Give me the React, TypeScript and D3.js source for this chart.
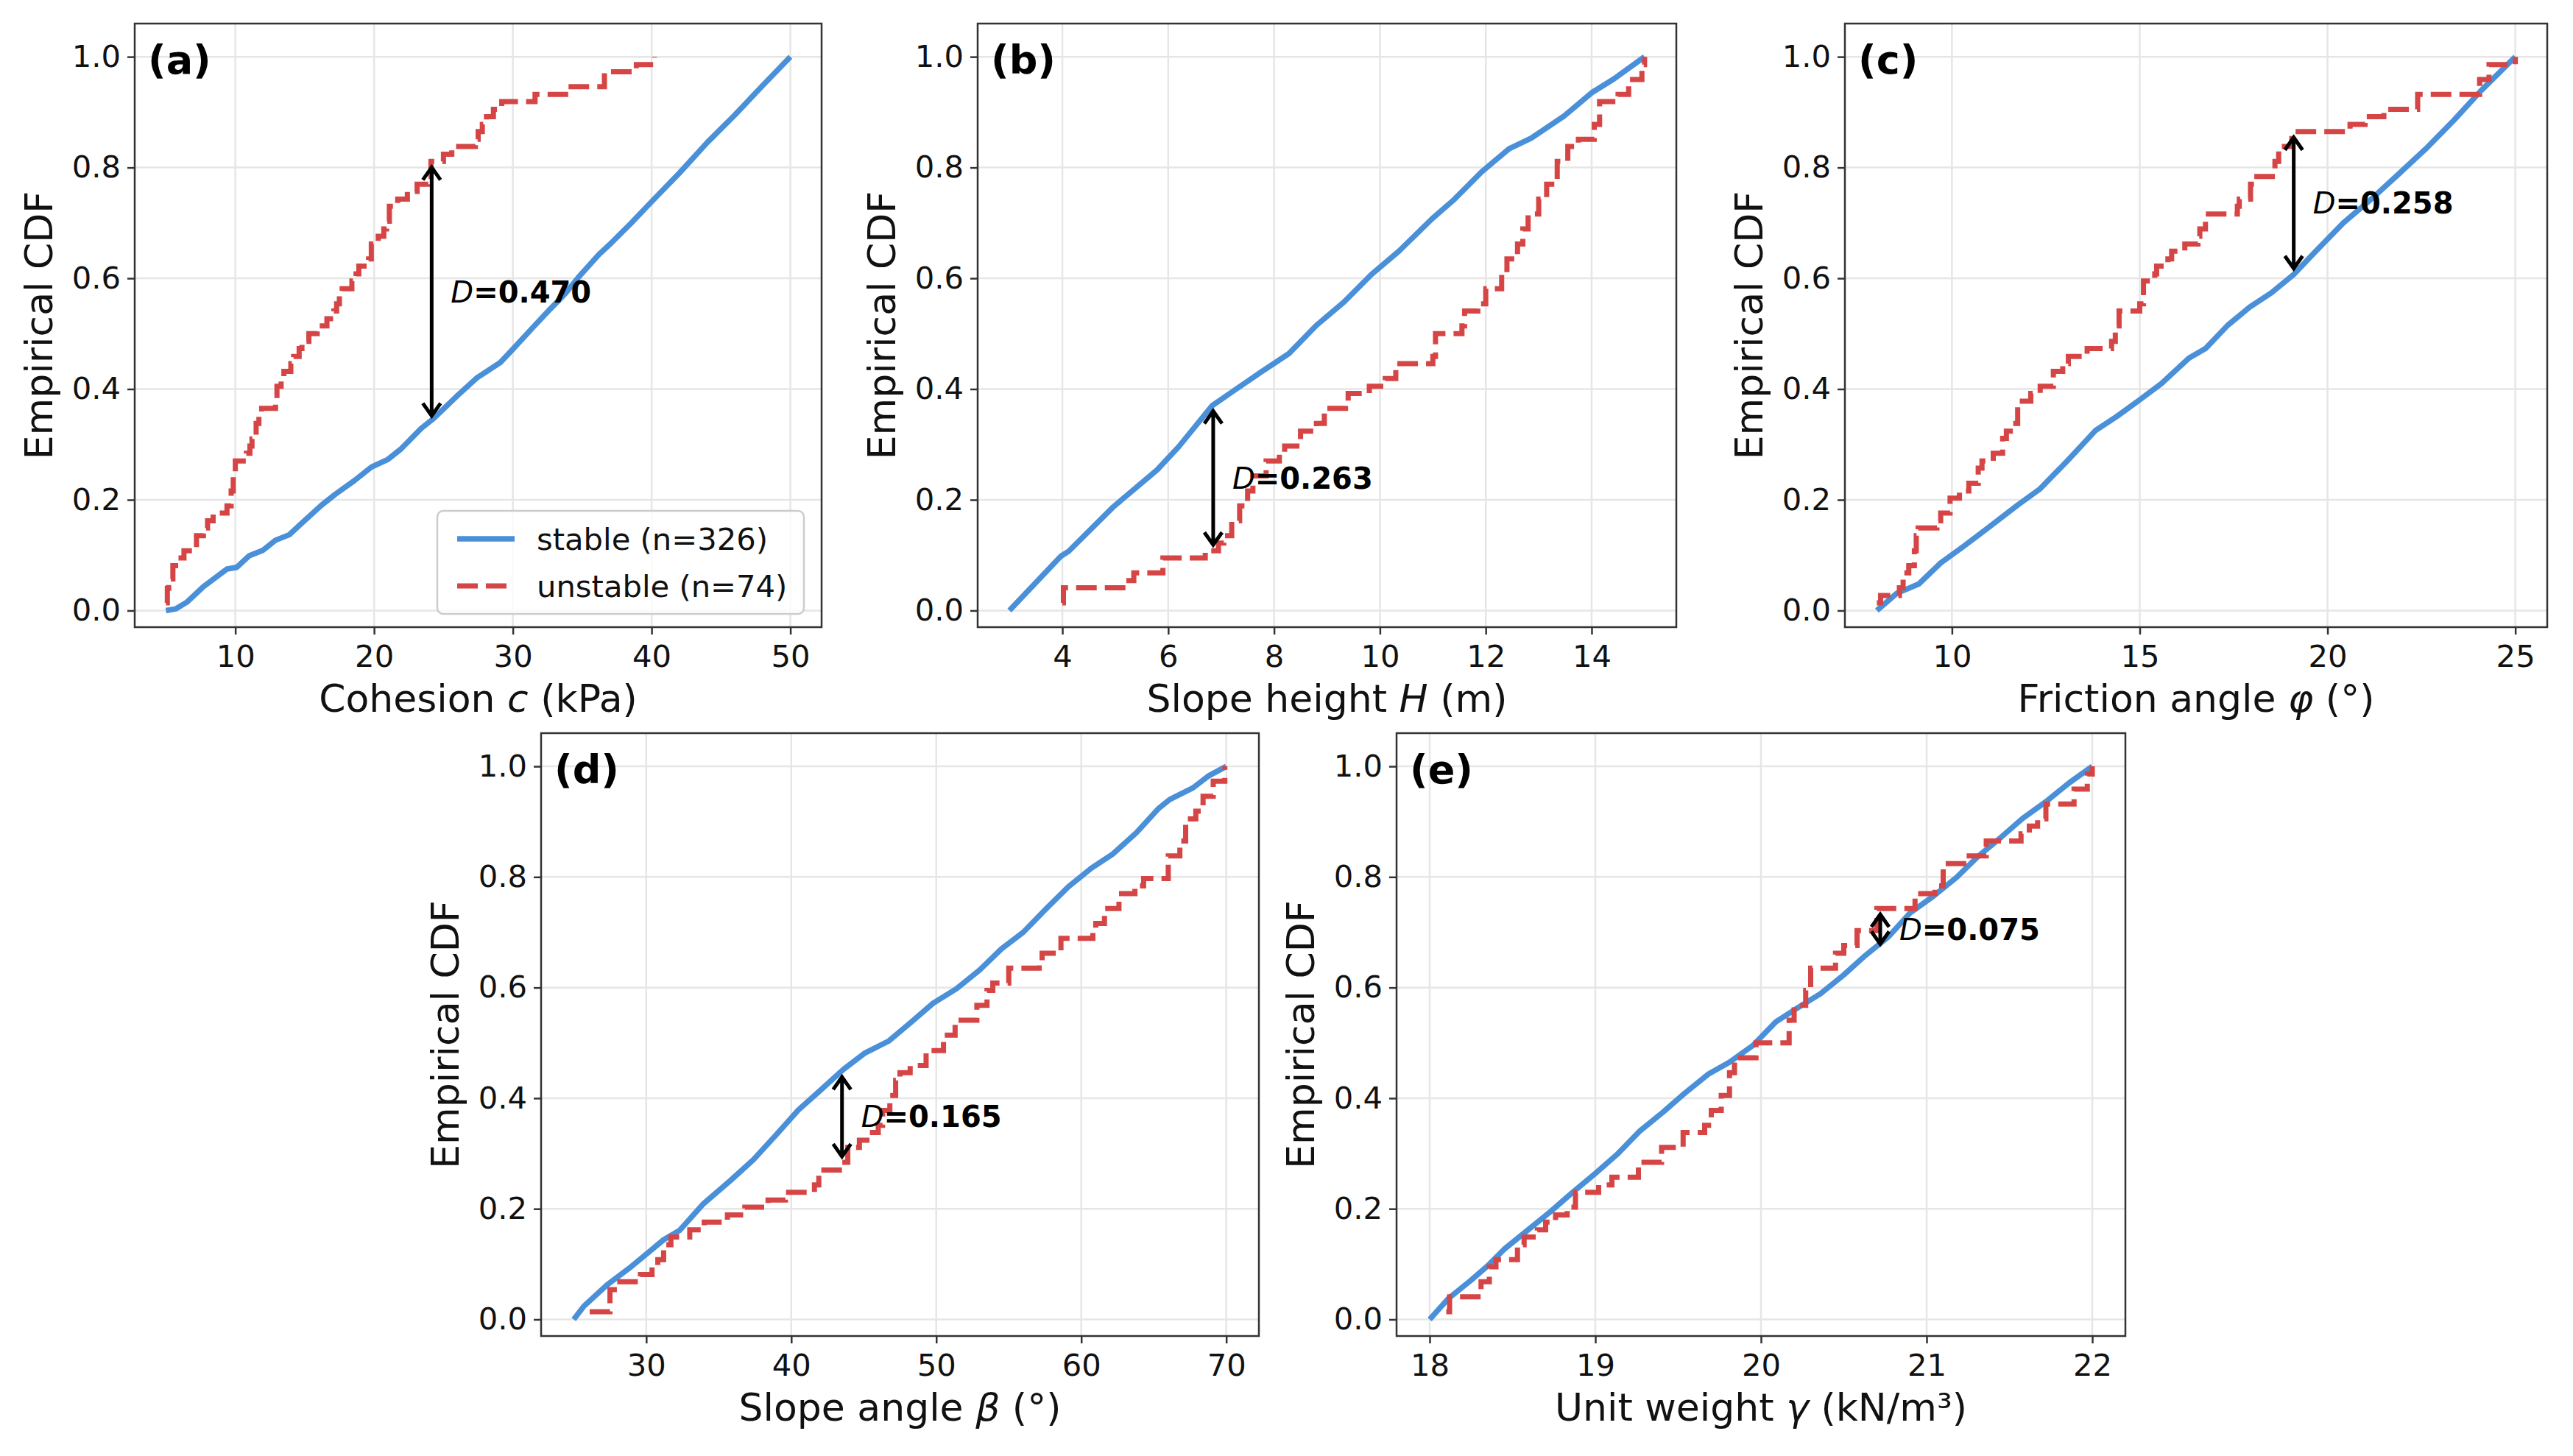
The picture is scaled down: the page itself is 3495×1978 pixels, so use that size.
import * as d3 from "d3";
import React, { useEffect, useRef } from "react";

const W = 3495;
const H = 1978;

// (a) cohesion c (kPa)
const aStableX = [5, 5.7, 6.5, 7.7, 9.4, 10.1, 11, 12, 12.9, 13.9, 14.8, 16.2, 17.2, 18.6, 19.8, 21, 21.9, 23.4, 24.3, 26, 27.4, 29.1, 30, 31.4, 32.6, 33.8, 34.7, 36.2, 37.1, 38.5, 40.1, 42, 44, 46, 48, 50];
const aStableY = [0, 0.003, 0.015, 0.043, 0.075, 0.078, 0.099, 0.109, 0.127, 0.137, 0.158, 0.19, 0.21, 0.235, 0.259, 0.273, 0.291, 0.329, 0.347, 0.388, 0.42, 0.448, 0.472, 0.51, 0.542, 0.573, 0.601, 0.643, 0.664, 0.699, 0.741, 0.79, 0.845, 0.895, 0.948, 1];
const aUnstableX = [5, 5.1, 5.2, 5.5, 5.9, 6.3, 7.2, 7.7, 8, 8.4, 9.4, 9.7, 9.85, 10, 10.8, 11.05, 11.2, 11.5, 11.7, 11.9, 12.9, 13, 13.3, 13.5, 14, 14.2, 14.6, 14.8, 15.3, 15.9, 16.6, 17.1, 17.3, 17.5, 17.7, 18.4, 18.7, 18.9, 19.6, 19.8, 20.3, 20.7, 20.9, 21.1, 21.7, 22.4, 23.1, 23.9, 24.1, 25, 25.6, 27.3, 27.5, 27.8, 28.1, 28.6, 29.2, 31.6, 33.8, 36.6, 38.9, 40.2];
const aUnstableY = [0.014, 0.04, 0.057, 0.081, 0.095, 0.108, 0.135, 0.149, 0.162, 0.176, 0.189, 0.216, 0.243, 0.27, 0.284, 0.297, 0.31, 0.338, 0.351, 0.365, 0.378, 0.405, 0.419, 0.432, 0.446, 0.459, 0.473, 0.486, 0.5, 0.514, 0.527, 0.541, 0.554, 0.568, 0.581, 0.595, 0.608, 0.622, 0.635, 0.662, 0.676, 0.689, 0.703, 0.73, 0.743, 0.757, 0.77, 0.784, 0.811, 0.824, 0.838, 0.851, 0.865, 0.878, 0.892, 0.905, 0.919, 0.932, 0.946, 0.973, 0.986, 1];

// (b) slope height H (m)
const bStableX = [3, 3.97, 4.12, 4.96, 5.79, 6.2, 6.83, 7.24, 7.76, 8.28, 8.8, 9.32, 9.84, 10.36, 10.99, 11.4, 11.92, 12.44, 12.86, 13.48, 14, 14.42, 15];
const bStableY = [0, 0.098, 0.107, 0.187, 0.254, 0.296, 0.37, 0.397, 0.431, 0.464, 0.515, 0.557, 0.607, 0.649, 0.708, 0.742, 0.792, 0.834, 0.853, 0.893, 0.935, 0.96, 1];
const bUnstableX = [4, 4.02, 5.2, 5.35, 5.9, 6.7, 6.95, 7.05, 7.2, 7.35, 7.5, 7.6, 7.85, 8.1, 8.2, 8.5, 8.8, 8.95, 9.35, 9.4, 9.8, 10.1, 10.3, 11, 11.05, 11.55, 11.6, 11.85, 12, 12.3, 12.4, 12.6, 12.7, 12.8, 13, 13.15, 13.35, 13.55, 13.75, 14.05, 14.15, 14.5, 14.7, 14.95, 15];
const bUnstableY = [0.014, 0.041, 0.054, 0.068, 0.095, 0.108, 0.122, 0.135, 0.162, 0.189, 0.216, 0.243, 0.27, 0.284, 0.297, 0.324, 0.338, 0.365, 0.378, 0.392, 0.405, 0.419, 0.446, 0.459, 0.5, 0.514, 0.541, 0.554, 0.581, 0.608, 0.635, 0.662, 0.689, 0.716, 0.743, 0.77, 0.811, 0.838, 0.851, 0.878, 0.919, 0.932, 0.959, 0.986, 1];

// (c) friction angle φ (°)
const cStableX = [8, 8.53, 9.12, 9.7, 10.29, 10.88, 11.76, 12.35, 13.08, 13.82, 14.4, 14.99, 15.58, 16.31, 16.75, 17.34, 17.93, 18.51, 19.1, 19.69, 20.42, 21.15, 21.89, 22.62, 23.36, 24.09, 25];
const cStableY = [0, 0.031, 0.048, 0.086, 0.115, 0.145, 0.191, 0.22, 0.271, 0.325, 0.351, 0.38, 0.41, 0.456, 0.473, 0.515, 0.548, 0.574, 0.607, 0.649, 0.7, 0.742, 0.788, 0.834, 0.885, 0.939, 1];
const cUnstableX = [8, 8.1, 8.6, 8.7, 8.85, 9, 9.05, 9.1, 9.6, 9.7, 9.95, 10.2, 10.45, 10.7, 10.8, 11.1, 11.35, 11.45, 11.7, 11.75, 12.1, 12.35, 12.7, 12.95, 13.1, 13.6, 14.25, 14.35, 14.45, 15, 15.1, 15.4, 15.45, 15.75, 15.85, 16.2, 16.55, 16.6, 16.75, 17.6, 17.65, 17.95, 18.05, 18.6, 18.7, 19.05, 20.6, 21, 21.5, 22.4, 24.05, 24.3, 25];
const cUnstableY = [0.014, 0.027, 0.041, 0.068, 0.081, 0.108, 0.135, 0.149, 0.162, 0.176, 0.203, 0.216, 0.23, 0.257, 0.27, 0.284, 0.311, 0.324, 0.338, 0.378, 0.392, 0.405, 0.432, 0.446, 0.459, 0.473, 0.486, 0.514, 0.541, 0.554, 0.595, 0.608, 0.622, 0.635, 0.649, 0.662, 0.676, 0.689, 0.716, 0.73, 0.743, 0.77, 0.784, 0.811, 0.838, 0.865, 0.878, 0.892, 0.905, 0.932, 0.959, 0.986, 1];

// (d) slope angle β (°)
const dStableX = [25, 25.7, 27.3, 28.8, 30, 31.2, 32.3, 33.9, 35.8, 37.4, 38.9, 40.5, 42, 43.6, 45.1, 46.7, 48.3, 49.8, 51.4, 53, 54.5, 56, 57.6, 59.1, 60.7, 62.2, 63.8, 65.3, 66.1, 67.7, 68.8, 70];
const dStableY = [0, 0.024, 0.0625, 0.092, 0.118, 0.144, 0.161, 0.208, 0.251, 0.289, 0.332, 0.379, 0.414, 0.452, 0.482, 0.503, 0.538, 0.572, 0.598, 0.632, 0.67, 0.7, 0.743, 0.782, 0.816, 0.842, 0.88, 0.923, 0.94, 0.961, 0.983, 1];
const dUnstableX = [26.1, 27.5, 28, 29.6, 30.4, 30.8, 31.2, 31.7, 33, 34, 35.6, 36.8, 38.4, 39.6, 41.6, 41.9, 43.5, 43.9, 44.7, 45.6, 46, 46.3, 46.8, 47.2, 47.5, 48.2, 49.3, 50.5, 51.3, 52.8, 53.5, 53.9, 55, 57.1, 57.3, 58.6, 60.8, 61, 61.6, 62.6, 63.7, 64.3, 66, 66.8, 67.2, 67.9, 68.4, 69.1, 69.9];
const dUnstableY = [0.014, 0.054, 0.068, 0.081, 0.095, 0.108, 0.135, 0.149, 0.162, 0.176, 0.189, 0.203, 0.216, 0.23, 0.243, 0.27, 0.284, 0.311, 0.324, 0.338, 0.351, 0.378, 0.405, 0.432, 0.446, 0.459, 0.486, 0.514, 0.541, 0.568, 0.595, 0.608, 0.635, 0.649, 0.662, 0.689, 0.703, 0.716, 0.743, 0.77, 0.784, 0.797, 0.838, 0.865, 0.905, 0.919, 0.946, 0.973, 1];

// (e) unit weight γ (kN/m³)
const eStableX = [18, 18.11, 18.25, 18.35, 18.45, 18.59, 18.73, 18.86, 19, 19.13, 19.27, 19.41, 19.54, 19.68, 19.81, 19.95, 20.09, 20.22, 20.36, 20.5, 20.63, 20.77, 20.9, 21.04, 21.18, 21.31, 21.45, 21.58, 21.72, 21.86, 22];
const eStableY = [0, 0.037, 0.071, 0.097, 0.127, 0.161, 0.195, 0.229, 0.264, 0.298, 0.341, 0.375, 0.409, 0.443, 0.465, 0.495, 0.538, 0.563, 0.589, 0.623, 0.658, 0.692, 0.735, 0.765, 0.799, 0.837, 0.872, 0.906, 0.936, 0.97, 1];
const eUnstableX = [18.1, 18.12, 18.31, 18.36, 18.4, 18.53, 18.57, 18.65, 18.7, 18.76, 18.83, 18.88, 19.02, 19.1, 19.26, 19.4, 19.53, 19.66, 19.7, 19.76, 19.81, 19.84, 19.97, 20.17, 20.2, 20.27, 20.3, 20.45, 20.5, 20.58, 20.7, 20.93, 21.05, 21.1, 21.24, 21.36, 21.57, 21.62, 21.67, 21.72, 21.89, 21.97, 22];
const eUnstableY = [0.014, 0.041, 0.068, 0.095, 0.108, 0.135, 0.149, 0.162, 0.176, 0.189, 0.203, 0.23, 0.243, 0.257, 0.284, 0.311, 0.338, 0.351, 0.378, 0.405, 0.446, 0.473, 0.5, 0.541, 0.568, 0.595, 0.635, 0.662, 0.676, 0.703, 0.743, 0.77, 0.784, 0.824, 0.838, 0.865, 0.878, 0.892, 0.905, 0.932, 0.959, 0.986, 1];

const panelTags = ["(a)", "(b)", "(c)", "(d)", "(e)"];
const xLabelParts = [
  ["Cohesion ", "c", " (kPa)"],
  ["Slope height ", "H", " (m)"],
  ["Friction angle ", "φ", " (°)"],
  ["Slope angle ", "β", " (°)"],
  ["Unit weight ", "γ", " (kN/m³)"],
];
const xTicks = [
  [10, 20, 30, 40, 50],
  [4, 6, 8, 10, 12, 14],
  [10, 15, 20, 25],
  [30, 40, 50, 60, 70],
  [18, 19, 20, 21, 22],
];
const yTicks = [0, 0.2, 0.4, 0.6, 0.8, 1.0];

// KS statistic: location and the two CDF values
const ksX = [24.15, 6.85, 19.1, 43.5, 20.72];
const ksLow = [0.341, 0.108, 0.607, 0.284, 0.668];
const ksHigh = [0.811, 0.371, 0.865, 0.449, 0.743];
const ksText = ["0.470", "0.263", "0.258", "0.165", "0.075"];

const legendLabels = ["stable (n=326)", "unstable (n=74)"];

const stableX = [aStableX, bStableX, cStableX, dStableX, eStableX];
const stableY = [aStableY, bStableY, cStableY, dStableY, eStableY];
const unstableX = [aUnstableX, bUnstableX, cUnstableX, dUnstableX, eUnstableX];
const unstableY = [aUnstableY, bUnstableY, cUnstableY, dUnstableY, eUnstableY];

// axes boxes in pixels
const boxes = [
  { l: 183, r: 1116, t: 32, b: 852 },
  { l: 1328, r: 2277, t: 32, b: 852 },
  { l: 2506, r: 3460, t: 32, b: 852 },
  { l: 735, r: 1710, t: 996, b: 1815 },
  { l: 1897, r: 2887, t: 996, b: 1815 },
];

const BLUE = "#4a90d9";
const RED = "#d64545";
const FONT = "DejaVu Sans, sans-serif";

const App: React.FC = () => {
  const ref = useRef<SVGSVGElement>(null);

  useEffect(() => {
    if (!ref.current) return;
    document.body.style.margin = "0";
    const svg = d3.select(ref.current);
    svg.selectAll("*").remove();
    svg.append("rect").attr("width", W).attr("height", H).attr("fill", "#fff");

    boxes.forEach((box, i) => {
      const ext = d3.extent(stableX[i].concat(unstableX[i])) as [number, number];
      const pad = (ext[1] - ext[0]) * 0.05;
      const x = d3.scaleLinear().domain([ext[0] - pad, ext[1] + pad]).range([box.l, box.r]);
      const y = d3.scaleLinear().domain([-0.03, 1.06]).range([box.b, box.t]);
      const g = svg.append("g").style("font-family", FONT);

      const clipId = `clip-${i}`;
      g.append("clipPath")
        .attr("id", clipId)
        .append("rect")
        .attr("x", box.l)
        .attr("y", box.t)
        .attr("width", box.r - box.l)
        .attr("height", box.b - box.t);

      // grid
      g.selectAll(".gx")
        .data(xTicks[i])
        .join("line")
        .attr("x1", (d) => x(d))
        .attr("x2", (d) => x(d))
        .attr("y1", box.t)
        .attr("y2", box.b)
        .attr("stroke", "#e6e6e6")
        .attr("stroke-width", 2.5);
      g.selectAll(".gy")
        .data(yTicks)
        .join("line")
        .attr("x1", box.l)
        .attr("x2", box.r)
        .attr("y1", (d) => y(d))
        .attr("y2", (d) => y(d))
        .attr("stroke", "#e6e6e6")
        .attr("stroke-width", 2.5);

      const plot = g.append("g").attr("clip-path", `url(#${clipId})`);

      const line = d3
        .line<number>()
        .x((d, k) => x(stableX[i][k]))
        .y((d) => y(d));
      plot
        .append("path")
        .attr("d", line(stableY[i]))
        .attr("fill", "none")
        .attr("stroke", BLUE)
        .attr("stroke-width", 7.5)
        .attr("stroke-linejoin", "round");

      const step = d3
        .line<number>()
        .x((d, k) => x(unstableX[i][k]))
        .y((d) => y(d))
        .curve(d3.curveStepAfter);
      plot
        .append("path")
        .attr("d", step(unstableY[i]))
        .attr("fill", "none")
        .attr("stroke", RED)
        .attr("stroke-width", 7)
        .attr("stroke-dasharray", "28 11");

      // KS arrow
      const ax = x(ksX[i]);
      const yTop = y(ksHigh[i]) + 8;
      const yBot = y(ksLow[i]) - 8;
      const hw = 12,
        hl = 17;
      g.append("path")
        .attr(
          "d",
          `M${ax},${yTop}L${ax},${yBot}` +
            `M${ax - hw},${yTop + hl}L${ax},${yTop}L${ax + hw},${yTop + hl}` +
            `M${ax - hw},${yBot - hl}L${ax},${yBot}L${ax + hw},${yBot - hl}`
        )
        .attr("fill", "none")
        .attr("stroke", "#000")
        .attr("stroke-width", 5);

      const ks = g
        .append("text")
        .attr("x", ax + 26)
        .attr("y", (y(ksHigh[i]) + y(ksLow[i])) / 2)
        .attr("dy", "0.36em")
        .style("font-size", "40px")
        .attr("fill", "#000");
      ks.append("tspan").attr("font-style", "italic").text("D");
      ks.append("tspan").attr("font-weight", "bold").text("=" + ksText[i]);

      // spines
      g.append("rect")
        .attr("x", box.l)
        .attr("y", box.t)
        .attr("width", box.r - box.l)
        .attr("height", box.b - box.t)
        .attr("fill", "none")
        .attr("stroke", "#333")
        .attr("stroke-width", 2.5);

      // axes
      const xAxis = g
        .append("g")
        .attr("transform", `translate(0,${box.b})`)
        .call(d3.axisBottom(x).tickValues(xTicks[i]).tickFormat(d3.format("d")).tickSize(10).tickPadding(14));
      const yAxis = g
        .append("g")
        .attr("transform", `translate(${box.l},0)`)
        .call(d3.axisLeft(y).tickValues(yTicks).tickFormat(d3.format(".1f")).tickSize(10).tickPadding(9));
      [xAxis, yAxis].forEach((a) => {
        a.select(".domain").remove();
        a.selectAll("line").attr("stroke", "#333").attr("stroke-width", 2.5);
        a.selectAll("text").style("font-size", "41.7px").style("font-family", FONT).attr("fill", "#111");
      });

      // axis labels
      const xl = g
        .append("text")
        .attr("x", (box.l + box.r) / 2)
        .attr("y", box.b + 115)
        .attr("text-anchor", "middle")
        .style("font-size", "52px")
        .attr("fill", "#111");
      xl.append("tspan").text(xLabelParts[i][0]);
      xl.append("tspan").attr("font-style", "italic").text(xLabelParts[i][1]);
      xl.append("tspan").text(xLabelParts[i][2]);

      g.append("text")
        .attr("transform", `translate(${box.l - 112},${(box.t + box.b) / 2}) rotate(-90)`)
        .attr("text-anchor", "middle")
        .style("font-size", "52px")
        .attr("fill", "#111")
        .text("Empirical CDF");

      // panel tag
      g.append("text")
        .attr("x", box.l + 18)
        .attr("y", box.t + 68)
        .style("font-size", "54px")
        .attr("font-weight", "bold")
        .attr("fill", "#000")
        .text(panelTags[i]);

      // legend in first panel
      if (i === 0) {
        const lw = 498,
          lh = 140;
        const lx = box.r - 24 - lw;
        const ly = box.b - 18 - lh;
        g.append("rect")
          .attr("x", lx)
          .attr("y", ly)
          .attr("width", lw)
          .attr("height", lh)
          .attr("rx", 8)
          .attr("fill", "#fff")
          .attr("fill-opacity", 0.8)
          .attr("stroke", "#cccccc")
          .attr("stroke-width", 2.5);
        legendLabels.forEach((lab, k) => {
          const cy = ly + 38 + k * 64;
          g.append("line")
            .attr("x1", lx + 27)
            .attr("x2", lx + 105)
            .attr("y1", cy)
            .attr("y2", cy)
            .attr("stroke", k === 0 ? BLUE : RED)
            .attr("stroke-width", k === 0 ? 7.5 : 7)
            .attr("stroke-dasharray", k === 0 ? null : "28 11");
          g.append("text")
            .attr("x", lx + 135)
            .attr("y", cy)
            .attr("dy", "0.36em")
            .style("font-size", "41.7px")
            .attr("fill", "#111")
            .text(lab);
        });
      }
    });
  }, []);

  return <svg ref={ref} width={W} height={H} style={{ display: "block" }} />;
};

export default App;
